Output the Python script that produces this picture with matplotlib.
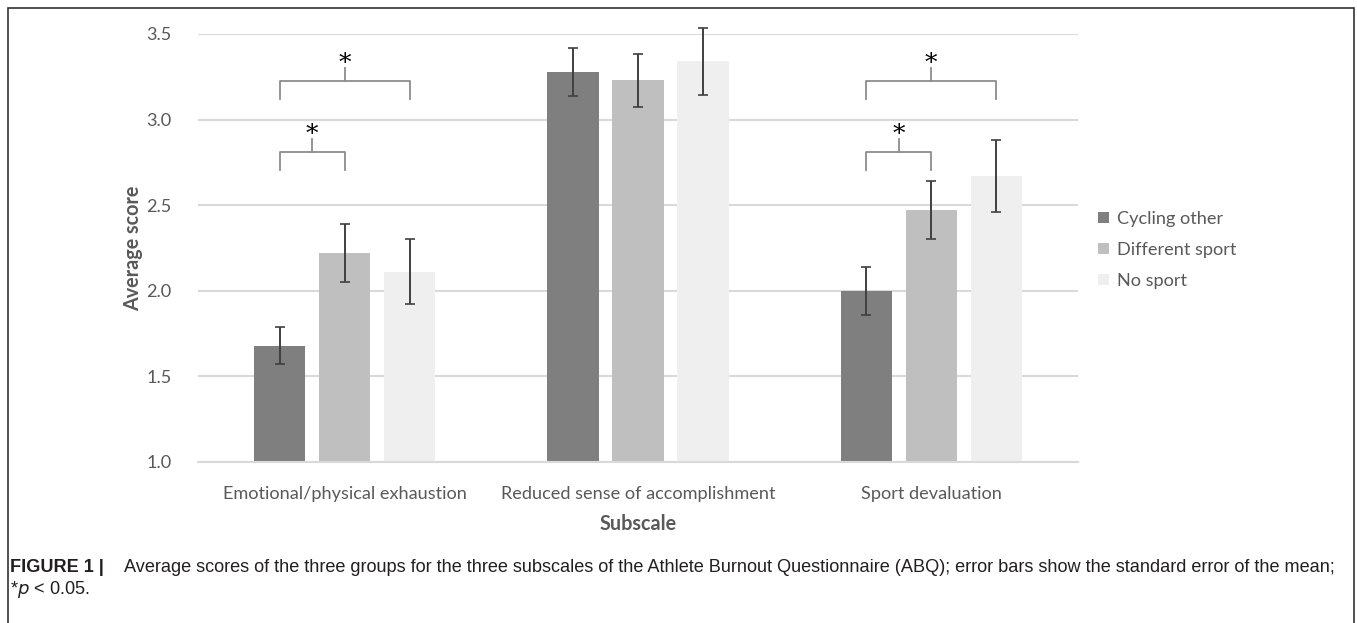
import matplotlib.pyplot as plt
import numpy as np
from matplotlib.patches import Rectangle

# data
subscales = ['Emotional/physical exhaustion', 'Reduced sense of accomplishment', 'Sport devaluation']
groups = ['Cycling other', 'Different sport', 'No sport']
cycling_other = [1.68, 3.28, 2.00]
different_sport = [2.22, 3.23, 2.47]
no_sport = [2.11, 3.34, 2.67]
cycling_other_se = [0.11, 0.14, 0.14]
different_sport_se = [0.17, 0.155, 0.17]
no_sport_se = [0.19, 0.197, 0.21]
yticks = [1.0, 1.5, 2.0, 2.5, 3.0, 3.5]
# significance brackets: (subscale index, group a, group b, bracket level)
brackets = [(0, 0, 1, 2.81), (0, 0, 2, 3.225), (2, 0, 1, 2.81), (2, 0, 2, 3.225)]

means = [cycling_other, different_sport, no_sport]
ses = [cycling_other_se, different_sport_se, no_sport_se]
colors = ['#7f7f7f', '#bfbfbf', '#efefef']
txt_grey = '#595959'
font = 'Lato'
fs = 13.1

fig = plt.figure(figsize=(13.57, 6.23), dpi=100)
ax = fig.add_axes([198 / 1357, 1 - 462 / 623, 880 / 1357, 428 / 623])

x = np.arange(len(subscales))
width = 0.174
step = 0.2216
for i, g in enumerate(groups):
    pos = x + (i - 1) * step
    ax.bar(pos, means[i], width, bottom=0, color=colors[i], label=g, zorder=2)
    ax.errorbar(pos, means[i], yerr=ses[i], fmt='none', ecolor='#404040',
                elinewidth=1.4, capsize=3.5, capthick=1.2, zorder=3, clip_on=False)

for cat, a, b, lvl in brackets:
    xa = cat + (a - 1) * step
    xb = cat + (b - 1) * step
    ax.plot([xa, xa, xb, xb], [lvl - 0.105, lvl, lvl, lvl - 0.105], color='#8c8c8c',
            lw=1.3, zorder=3, clip_on=False)
    xm = (xa + xb) / 2
    ax.plot([xm, xm], [lvl, lvl + 0.075], color='#8c8c8c', lw=1.3, zorder=3)
    ax.text(xm, lvl + 0.035, '*', ha='center', va='bottom', fontsize=18,
            color='black', family='DejaVu Serif')

ax.set_xlim(-0.5, 2.5)
ax.set_ylim(1.0, 3.5)
ax.set_yticks(yticks)
ax.set_yticklabels([f'{t:.1f}' for t in yticks], family=font, fontsize=fs, color=txt_grey)
ax.set_xticks(x)
ax.set_xticklabels(subscales, family=font, fontsize=fs, color=txt_grey)
ax.tick_params(axis='both', length=0)
ax.tick_params(axis='y', pad=19)
ax.tick_params(axis='x', pad=17)
ax.yaxis.grid(True, color='#d9d9d9', lw=1.5, zorder=0)
ax.set_axisbelow(True)
for s in ['top', 'right', 'left']:
    ax.spines[s].set_visible(False)
ax.spines['bottom'].set_color('#d9d9d9')
ax.spines['bottom'].set_linewidth(1.5)

ax.set_ylabel('Average score', family=font, fontsize=14.2, fontweight='bold',
              color=txt_grey, labelpad=2)
ax.set_xlabel('Subscale', family=font, fontsize=14.2, fontweight='bold',
              color=txt_grey, labelpad=9)

leg = ax.legend(loc='center left', bbox_to_anchor=(1.004, 1 - (250 - 34) / 428), frameon=False,
                prop={'family': font, 'size': fs}, handlelength=0.6, handleheight=0.6,
                handletextpad=0.45, labelspacing=0.82)
for t in leg.get_texts():
    t.set_color(txt_grey)

# figure frame and caption
fig.add_artist(Rectangle((8 / 1357, -0.01), 1346 / 1357, 1 - 8 / 623 + 0.01,
                         transform=fig.transFigure, fill=False, ec='#333333', lw=1.2))
cap_y = 1 - 567 / 623
cap_fs = 13.1
fig.text(10 / 1357, cap_y, 'FIGURE 1 |', family='Liberation Sans', fontweight='bold',
         fontsize=cap_fs, color='#231f20', va='center')
fig.text(124 / 1357, cap_y,
         'Average scores of the three groups for the three subscales of the Athlete Burnout '
         'Questionnaire (ABQ); error bars show the standard error of the mean;',
         family='Liberation Sans', fontsize=cap_fs, color='#231f20', va='center')
fig.text(10 / 1357, 1 - 590 / 623, r'*$p$ < 0.05.', family='Liberation Sans',
         fontsize=cap_fs, color='#231f20', va='center')

fig.savefig('out.png', dpi=100, facecolor='white')
